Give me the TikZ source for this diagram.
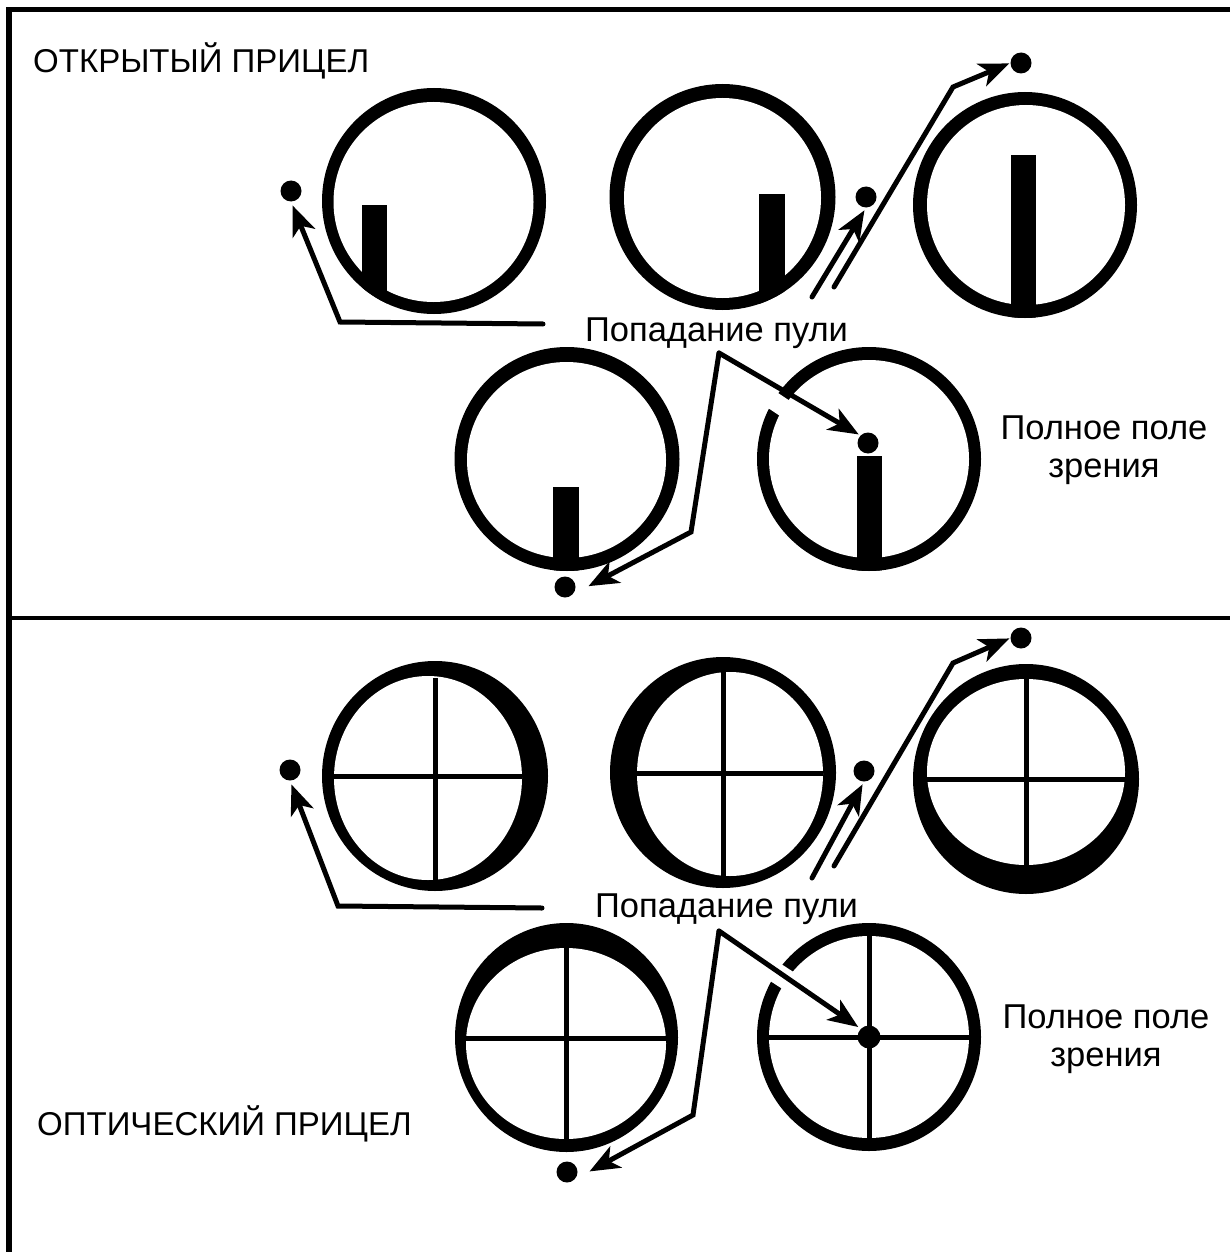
\documentclass[tikz,border=0pt]{standalone}
\usepackage{fontspec}
\setmainfont{Liberation Sans}
\usetikzlibrary{arrows.meta}
\tikzset{
  conn/.style={line width=5pt,line cap=round,line join=miter,shorten >=#1,-{Stealth[length=30pt,width=24pt,inset=8pt]}},
  conn/.default=3pt,
  dot/.style={circle,fill=black,draw=none,inner sep=0pt,minimum size=21pt},
  lab/.style={font=\fontsize{34.5}{38}\selectfont,align=center,inner sep=0pt,text=black},
  capslab/.style={font=\fontsize{33}{38}\selectfont,inner sep=0pt,text=black,anchor=west},
  cross/.style={line width=5pt,line cap=butt},
}
\newcommand{\ringshape}[8]{%
  \fill[black] (#1,#2) ellipse [x radius=#3,y radius=#4];
  \fill[white] (#5,#6) ellipse [x radius=#7,y radius=#8];
}
\newcommand{\postbar}[8]{%
  \begin{scope}
    \clip (#1,#2) ellipse [x radius=#3,y radius=#4];
    \fill[black] (#5,#6) rectangle (#7,#8);
  \end{scope}
}
\begin{document}
\begin{tikzpicture}[x=1pt,y=-1pt]
\useasboundingbox (0,0) rectangle (1230,1252);
\fill[white] (0,0) rectangle (1230,1252);

% frame
\draw[line width=5.5pt] (9,1252) -- (9,9.5) -- (1230,9.5);
\draw[line width=4pt] (12,618) -- (1230,618);

% ---------- upper panel
\ringshape{434}{201}{112}{113}{433.5}{202}{100}{100}
\ringshape{722.5}{197}{113}{113}{722.5}{198}{98.5}{100}
\ringshape{1025}{205}{112}{113}{1026}{205}{99}{100}
\ringshape{567}{459}{112.5}{112}{566.5}{460}{99.5}{98}
\ringshape{869}{459}{112}{112}{869}{459}{100}{99}
\postbar{434}{201}{112}{113}{362}{205}{387}{330}
\postbar{722.5}{197}{113}{113}{759}{194}{785}{330}
\postbar{1025}{205}{112}{113}{1011}{155}{1036}{330}
\postbar{567}{459}{112.5}{112}{553}{487}{579}{580}
\postbar{869}{459}{112}{112}{857}{456}{882}{580}
\fill[white] (772,389) -- (796,405) -- (786,420) -- (762,404) -- cycle;

\node[dot] (d1) at (291,191) {};
\node[dot] (d2) at (866,197) {};
\node[dot] (d3) at (1021,63) {};
\node[dot] (d4) at (565,587) {};
\node[dot] (d5) at (868,443) {};

\coordinate (a1s) at (543,324);
\coordinate (a1c) at (340,322);
\coordinate (a2s) at (812,297);
\coordinate (a3s) at (834,287);
\coordinate (a3c) at (953,87);
\coordinate (a4a) at (719,353);
\coordinate (a4b) at (691,532);

\draw[conn=4pt] (a1s) -- (a1c) -- (d1.south);
\draw[conn=3pt] (a2s) -- (d2.south);
\draw[conn=1pt] (a3s) -- (a3c) -- (d3.west);
\draw[conn=2pt] (a4a) -- (d5.north west);
\draw[conn=18pt] (a4a) -- (a4b) -- (d4.south east);

\node[capslab] (t1) at (33,61) {ОТКРЫТЫЙ ПРИЦЕЛ};
\node[lab] (t2) at (716.5,333) {Попадание пули};
\node[lab] (t3) at (1104,450) {Полное поле\\зрения};

% ---------- lower panel
\ringshape{435}{776}{113}{115}{428}{778}{94}{102}
\ringshape{723}{772.5}{113}{115.5}{730}{774}{93}{102}
\ringshape{1026}{779}{113}{115}{1026}{772}{99}{93}
\ringshape{566.5}{1037.5}{111.5}{114.5}{566}{1043.5}{100}{95.5}
\ringshape{869}{1037}{112}{114}{869}{1037}{100}{101}
\fill[white] (772,958) -- (795,973) -- (784,990) -- (761,975) -- cycle;

\draw[cross] (435,678) -- (435,881);
\draw[cross] (334,776) -- (522,776);
\draw[cross] (723.5,670) -- (723.5,878);
\draw[cross] (637,773) -- (823,773);
\draw[cross] (1026,678) -- (1026,866);
\draw[cross] (926,779) -- (1126,779);
\draw[cross] (566.5,947) -- (566.5,1140);
\draw[cross] (466,1038) -- (666,1038);
\draw[cross] (869,935) -- (869,1139);
\draw[cross] (768,1037) -- (970,1037);

\node[dot] (e1) at (290,770) {};
\node[dot] (e2) at (864,771) {};
\node[dot] (e3) at (1021,638) {};
\node[dot] (e4) at (567,1172) {};
\node[dot,minimum size=23pt] (e5) at (869,1037) {};

\coordinate (b1s) at (542,908);
\coordinate (b1c) at (338,906);
\coordinate (b2s) at (812,878);
\coordinate (b3s) at (834,866);
\coordinate (b3c) at (953,663);
\coordinate (b4a) at (719,931);
\coordinate (b4b) at (693,1115);

\draw[conn=4pt] (b1s) -- (b1c) -- (e1.south);
\draw[conn=3pt] (b2s) -- (e2.south);
\draw[conn=1pt] (b3s) -- (b3c) -- (e3.west);
\draw[conn=3pt] (b4a) -- (e5.north west);
\draw[conn=17pt] (b4a) -- (b4b) -- (e4.south east);

\node[lab] (t4) at (726.5,909) {Попадание пули};
\node[lab] (t5) at (1106,1039) {Полное поле\\зрения};
\node[capslab] (t6) at (37,1124) {ОПТИЧЕСКИЙ ПРИЦЕЛ};
\end{tikzpicture}
\end{document}
